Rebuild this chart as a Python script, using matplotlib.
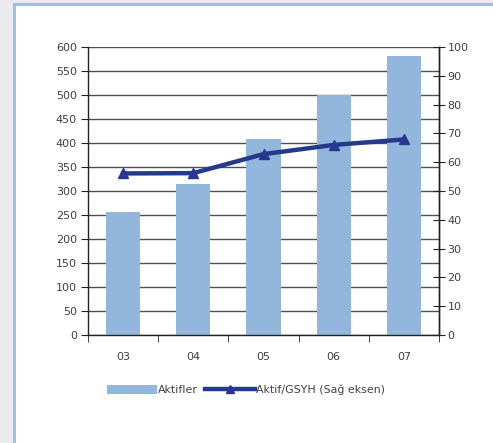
import matplotlib
matplotlib.use("Agg")
import matplotlib.pyplot as plt
from matplotlib.patches import Rectangle
from matplotlib.lines import Line2D
from matplotlib.patches import Patch

years = ["03", "04", "05", "06", "07"]
aktifler = [256, 315, 408, 500, 581]
aktif_gsyh = [56.1, 56.2, 62.8, 66.0, 67.9]
left_ticks = list(range(0, 601, 50))
right_ticks = list(range(0, 101, 10))

bar_color = "#93b6dc"
line_color = "#243b8c"
marker_color = "#2b3592"
text_color = "#404040"

W, H = 493, 443
fig = plt.figure(figsize=(W / 100, H / 100), dpi=100)
fig.patch.set_facecolor("#ebebed")

# white panel with a light blue border, behind the axes
fig.patches.append(Rectangle((14 / W, -0.01), 1 - 14 / W + 0.01, 1 - 4 / H + 0.01,
                             transform=fig.transFigure, facecolor="white",
                             edgecolor="#9cc0e6", linewidth=2.2, zorder=-5))

ax = fig.add_axes([88 / W, 1 - 335 / H, (439 - 88) / W, (335 - 47) / H])
ax.set_facecolor("white")
x = list(range(len(years)))
ax.bar(x, aktifler, width=0.49, color=bar_color, zorder=2)
ax.set_xlim(-0.5, len(years) - 0.5)
ax.set_ylim(0, 600)
ax.set_yticks(left_ticks)
ax.yaxis.grid(True, color="#505050", linewidth=1.0, zorder=0)
ax.set_axisbelow(True)
ax.set_xticks(x)
ax.set_xticklabels(years)
ax.tick_params(axis="x", length=0, pad=12, labelsize=8, colors=text_color)
ax.set_xticks([i + 0.5 for i in range(-1, len(years))], minor=True)
ax.tick_params(axis="x", which="minor", length=5, direction="out", color="#222222")
ax.tick_params(axis="y", length=5, direction="out", labelsize=8,
               colors=text_color, color="#222222", pad=3)
for s in ["left", "bottom", "right"]:
    ax.spines[s].set_color("#222222")
    ax.spines[s].set_linewidth(1.0)
ax.spines["top"].set_visible(False)

ax2 = ax.twinx()
ax2.plot(x, aktif_gsyh, color=line_color, linewidth=3.2, marker="^",
         markersize=7, markerfacecolor=marker_color, markeredgecolor=marker_color,
         zorder=5)
ax2.set_ylim(0, 100)
ax2.set_yticks(right_ticks)
ax2.tick_params(axis="y", length=8, direction="inout", labelsize=8,
                colors=text_color, color="#222222", pad=2)
for s in ["left", "bottom", "top"]:
    ax2.spines[s].set_visible(False)
ax2.spines["right"].set_color("#222222")
ax2.spines["right"].set_linewidth(1.0)

handles = [Patch(facecolor=bar_color, edgecolor="none"),
           Line2D([], [], color=line_color, linewidth=3.2, marker="^",
                  markersize=6, markerfacecolor=marker_color,
                  markeredgecolor=marker_color)]
fig.legend(handles, ["Aktifler", "Aktif/GSYH (Sağ eksen)"], loc="center",
           bbox_to_anchor=(246 / W, 1 - 390 / H), ncol=2, frameon=False,
           fontsize=7.9, labelcolor=text_color, handlelength=4.6,
           handletextpad=0.1, columnspacing=0.6, handleheight=0.9)

fig.savefig("out.png", dpi=100, facecolor=fig.get_facecolor())
